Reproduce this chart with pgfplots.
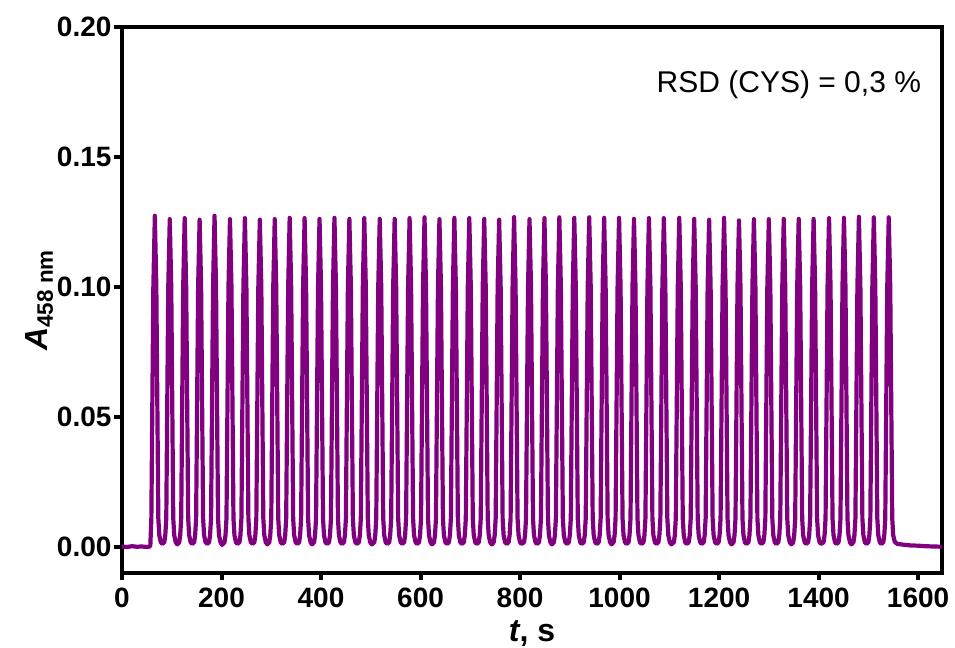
\documentclass[border=0pt]{standalone}
\usepackage{pgfplots}
\pgfplotsset{compat=1.18}
\usepackage{fontspec}
\setmainfont{Liberation Sans}
\definecolor{trace}{RGB}{128,0,128}
\begin{document}
\begin{tikzpicture}
\useasboundingbox (-61pt,-37.5pt) rectangle (416.5pt,286.5pt);
\begin{axis}[
  scale only axis,
  width=410pt, height=273pt,
  xmin=0, xmax=1648, ymin=-0.01, ymax=0.20,
  xtick={0,200,...,1600},
  ytick={0,0.05,0.10,0.15,0.20},
  axis line style={line width=2pt},
  tick style={line width=2pt, black},
  major tick length=3.75pt,
  tick align=outside,
  xtick pos=bottom, ytick pos=left,
  /pgf/number format/assume math mode=true,
  /pgf/number format/1000 sep={},
  yticklabel style={xshift=2pt, /pgf/number format/.cd, fixed, fixed zerofill, precision=2},
  ticklabel style={font=\fontsize{14}{16}\selectfont\bfseries},
  xlabel={\textbf{\textit{t}, s}},
  ylabel={\textbf{\textit{A}}\textsubscript{\textbf{458 nm}}},
  label style={font=\fontsize{16}{18}\selectfont},
  xlabel style={yshift=0pt},
  ylabel style={yshift=-5pt},
]
\addplot[trace, line width=2.1pt, line join=round, line cap=round] coordinates {
(0,0.0002) (10,0.0000) (20,0.0003) (30,0.0001) (40,0.0002) (50,0.0000) (56,0.0002)
(57,0.0008) (59,0.011) (63,0.100) (66,0.1274) (69,0.100) (73,0.011) (75,0.0045) (78,0.0018) (81,0.0012)
(85,0.0018) (87,0.0045) (89,0.011) (93,0.100) (96,0.1261) (99,0.100) (103,0.011) (105,0.0045) (108,0.0018) (111,0.0010)
(115,0.0018) (117,0.0045) (119,0.011) (123,0.100) (126,0.1265) (129,0.100) (133,0.011) (135,0.0045) (138,0.0018) (141,0.0012)
(145,0.0018) (147,0.0045) (149,0.011) (153,0.100) (156,0.1259) (159,0.100) (163,0.011) (165,0.0045) (168,0.0018) (171,0.0012)
(175,0.0018) (177,0.0045) (179,0.011) (183,0.100) (186,0.1274) (189,0.100) (193,0.011) (195,0.0045) (198,0.0018) (201,0.0008)
(206,0.0018) (208,0.0045) (210,0.011) (214,0.100) (217,0.1261) (220,0.100) (224,0.011) (226,0.0045) (229,0.0018) (232,0.0012)
(236,0.0018) (238,0.0045) (240,0.011) (244,0.100) (247,0.1265) (250,0.100) (254,0.011) (256,0.0045) (259,0.0018) (262,0.0012)
(266,0.0018) (268,0.0045) (270,0.011) (274,0.100) (277,0.1259) (280,0.100) (284,0.011) (286,0.0045) (289,0.0018) (292,0.0010)
(296,0.0018) (298,0.0045) (300,0.011) (304,0.100) (307,0.1261) (310,0.100) (314,0.011) (316,0.0045) (319,0.0018) (322,0.0012)
(326,0.0018) (328,0.0045) (330,0.011) (334,0.100) (337,0.1266) (340,0.100) (344,0.011) (346,0.0045) (349,0.0018) (352,0.0012)
(356,0.0018) (358,0.0045) (360,0.011) (364,0.100) (367,0.1265) (370,0.100) (374,0.011) (376,0.0045) (379,0.0018) (382,0.0010)
(386,0.0018) (388,0.0045) (390,0.011) (394,0.100) (397,0.1262) (400,0.100) (404,0.011) (406,0.0045) (409,0.0018) (412,0.0012)
(416,0.0018) (418,0.0045) (420,0.011) (424,0.100) (427,0.1266) (430,0.100) (434,0.011) (436,0.0045) (439,0.0018) (442,0.0012)
(446,0.0018) (448,0.0045) (450,0.011) (454,0.100) (457,0.1262) (460,0.100) (464,0.011) (466,0.0045) (469,0.0018) (472,0.0012)
(476,0.0018) (478,0.0045) (480,0.011) (484,0.100) (487,0.1265) (490,0.100) (494,0.011) (496,0.0045) (499,0.0018) (502,0.0010)
(507,0.0018) (509,0.0045) (511,0.011) (515,0.100) (518,0.1262) (521,0.100) (525,0.011) (527,0.0045) (530,0.0018) (533,0.0012)
(537,0.0018) (539,0.0045) (541,0.011) (545,0.100) (548,0.1262) (551,0.100) (555,0.011) (557,0.0045) (560,0.0018) (563,0.0012)
(567,0.0018) (569,0.0045) (571,0.011) (575,0.100) (578,0.1265) (581,0.100) (585,0.011) (587,0.0045) (590,0.0018) (593,0.0012)
(597,0.0018) (599,0.0045) (601,0.011) (605,0.100) (608,0.1268) (611,0.100) (615,0.011) (617,0.0045) (620,0.0018) (623,0.0010)
(627,0.0018) (629,0.0045) (631,0.011) (635,0.100) (638,0.1261) (641,0.100) (645,0.011) (647,0.0045) (650,0.0018) (653,0.0012)
(657,0.0018) (659,0.0045) (661,0.011) (665,0.100) (668,0.1266) (671,0.100) (675,0.011) (677,0.0045) (680,0.0018) (683,0.0012)
(687,0.0018) (689,0.0045) (691,0.011) (695,0.100) (698,0.1265) (701,0.100) (705,0.011) (707,0.0045) (710,0.0018) (713,0.0012)
(717,0.0018) (719,0.0045) (721,0.011) (725,0.100) (728,0.1262) (731,0.100) (735,0.011) (737,0.0045) (740,0.0018) (743,0.0010)
(747,0.0018) (749,0.0045) (751,0.011) (755,0.100) (758,0.1259) (761,0.100) (765,0.011) (767,0.0045) (770,0.0018) (773,0.0012)
(777,0.0018) (779,0.0045) (781,0.011) (785,0.100) (788,0.1269) (791,0.100) (795,0.011) (797,0.0045) (800,0.0018) (803,0.0012)
(808,0.0018) (810,0.0045) (812,0.011) (816,0.100) (819,0.1261) (822,0.100) (826,0.011) (828,0.0045) (831,0.0018) (834,0.0012)
(838,0.0018) (840,0.0045) (842,0.011) (846,0.100) (849,0.1265) (852,0.100) (856,0.011) (858,0.0045) (861,0.0018) (864,0.0010)
(868,0.0018) (870,0.0045) (872,0.011) (876,0.100) (879,0.1268) (882,0.100) (886,0.011) (888,0.0045) (891,0.0018) (894,0.0012)
(898,0.0018) (900,0.0045) (902,0.011) (906,0.100) (909,0.1266) (912,0.100) (916,0.011) (918,0.0045) (921,0.0018) (924,0.0012)
(928,0.0018) (930,0.0045) (932,0.011) (936,0.100) (939,0.1268) (942,0.100) (946,0.011) (948,0.0045) (951,0.0018) (954,0.0012)
(958,0.0018) (960,0.0045) (962,0.011) (966,0.100) (969,0.1266) (972,0.100) (976,0.011) (978,0.0045) (981,0.0018) (984,0.0010)
(988,0.0018) (990,0.0045) (992,0.011) (996,0.100) (999,0.1266) (1002,0.100) (1006,0.011) (1008,0.0045) (1011,0.0018) (1014,0.0012)
(1018,0.0018) (1020,0.0045) (1022,0.011) (1026,0.100) (1029,0.1262) (1032,0.100) (1036,0.011) (1038,0.0045) (1041,0.0018) (1044,0.0012)
(1048,0.0018) (1050,0.0045) (1052,0.011) (1056,0.100) (1059,0.1265) (1062,0.100) (1066,0.011) (1068,0.0045) (1071,0.0018) (1074,0.0012)
(1078,0.0018) (1080,0.0045) (1082,0.011) (1086,0.100) (1089,0.1265) (1092,0.100) (1096,0.011) (1098,0.0045) (1101,0.0018) (1104,0.0010)
(1109,0.0018) (1111,0.0045) (1113,0.011) (1117,0.100) (1120,0.1266) (1123,0.100) (1127,0.011) (1129,0.0045) (1132,0.0018) (1135,0.0012)
(1139,0.0018) (1141,0.0045) (1143,0.011) (1147,0.100) (1150,0.1262) (1153,0.100) (1157,0.011) (1159,0.0045) (1162,0.0018) (1165,0.0012)
(1169,0.0018) (1171,0.0045) (1173,0.011) (1177,0.100) (1180,0.1259) (1183,0.100) (1187,0.011) (1189,0.0045) (1192,0.0018) (1195,0.0012)
(1199,0.0018) (1201,0.0045) (1203,0.011) (1207,0.100) (1210,0.1266) (1213,0.100) (1217,0.011) (1219,0.0045) (1222,0.0018) (1225,0.0010)
(1229,0.0018) (1231,0.0045) (1233,0.011) (1237,0.100) (1240,0.1256) (1243,0.100) (1247,0.011) (1249,0.0045) (1252,0.0018) (1255,0.0012)
(1259,0.0018) (1261,0.0045) (1263,0.011) (1267,0.100) (1270,0.1261) (1273,0.100) (1277,0.011) (1279,0.0045) (1282,0.0018) (1285,0.0012)
(1289,0.0018) (1291,0.0045) (1293,0.011) (1297,0.100) (1300,0.1261) (1303,0.100) (1307,0.011) (1309,0.0045) (1312,0.0018) (1315,0.0012)
(1319,0.0018) (1321,0.0045) (1323,0.011) (1327,0.100) (1330,0.1262) (1333,0.100) (1337,0.011) (1339,0.0045) (1342,0.0018) (1345,0.0010)
(1349,0.0018) (1351,0.0045) (1353,0.011) (1357,0.100) (1360,0.1262) (1363,0.100) (1367,0.011) (1369,0.0045) (1372,0.0018) (1375,0.0012)
(1379,0.0018) (1381,0.0045) (1383,0.011) (1387,0.100) (1390,0.1262) (1393,0.100) (1397,0.011) (1399,0.0045) (1402,0.0018) (1405,0.0012)
(1410,0.0018) (1412,0.0045) (1414,0.011) (1418,0.100) (1421,0.1265) (1424,0.100) (1428,0.011) (1430,0.0045) (1433,0.0018) (1436,0.0012)
(1440,0.0018) (1442,0.0045) (1444,0.011) (1448,0.100) (1451,0.1266) (1454,0.100) (1458,0.011) (1460,0.0045) (1463,0.0018) (1466,0.0010)
(1470,0.0018) (1472,0.0045) (1474,0.011) (1478,0.100) (1481,0.1270) (1484,0.100) (1488,0.011) (1490,0.0045) (1493,0.0018) (1496,0.0012)
(1500,0.0018) (1502,0.0045) (1504,0.011) (1508,0.100) (1511,0.1268) (1514,0.100) (1518,0.011) (1520,0.0045) (1523,0.0018) (1526,0.0012)
(1530,0.0018) (1532,0.0045) (1534,0.011) (1538,0.100) (1541,0.1268) (1544,0.100) (1548,0.011) (1550,0.0045) (1553,0.0020) (1558,0.0012)
(1570,0.0009) (1585,0.0006) (1600,0.0005) (1615,0.0003) (1630,0.0002) (1648,0.0001)
};
\node[anchor=east, font=\fontsize{15}{17}\selectfont] at (rel axis cs:0.983,0.895) {RSD (CYS) = 0,3 \%};
\end{axis}
\end{tikzpicture}
\end{document}
